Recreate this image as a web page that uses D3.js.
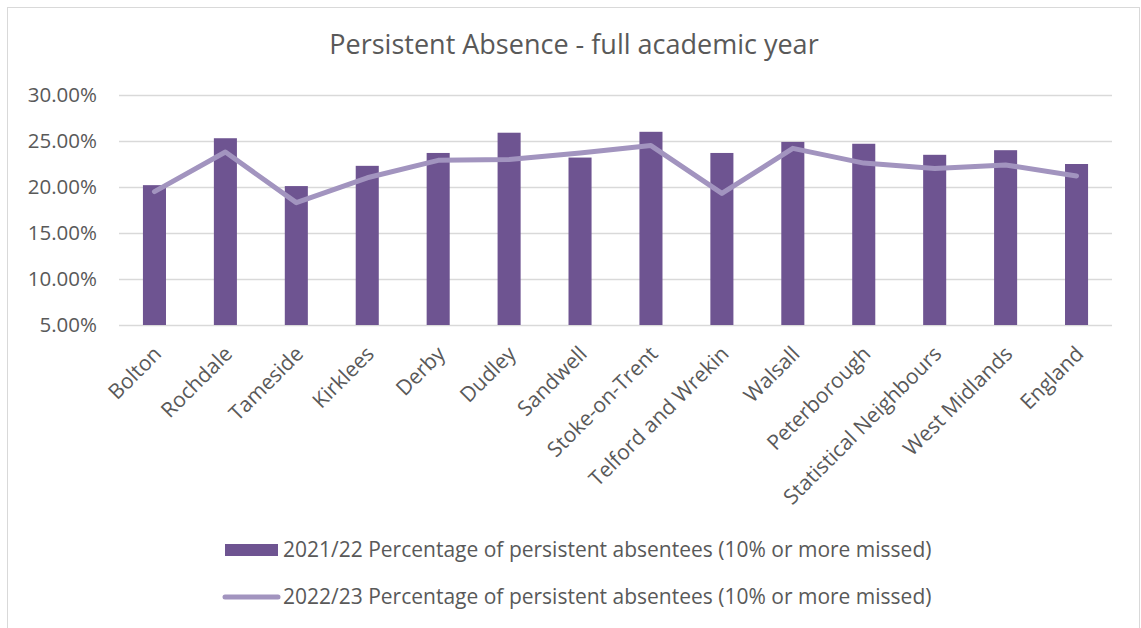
<!DOCTYPE html>
<html>
<head>
<meta charset="utf-8">
<script src="https://cdn.jsdelivr.net/npm/d3@7"></script>
<style>
  html, body { margin: 0; padding: 0; background: #fff; }
  svg { display: block; }
</style>
</head>
<body>
<svg id="chart" width="1141" height="628"></svg>
<script>
const categories = ["Bolton","Rochdale","Tameside","Kirklees","Derby","Dudley","Sandwell","Stoke-on-Trent","Telford and Wrekin","Walsall","Peterborough","Statistical Neighbours","West Midlands","England"];
const values2122 = [20.2, 25.3, 20.1, 22.3, 23.7, 25.9, 23.2, 26.0, 23.7, 24.9, 24.7, 23.5, 24.0, 22.5];
const values2223 = [19.5, 23.8, 18.3, 21.0, 22.9, 23.0, 23.7, 24.5, 19.3, 24.2, 22.6, 22.0, 22.4, 21.2];
const yTicks = [5, 10, 15, 20, 25, 30];
const seriesNames = ["2021/22 Percentage of persistent absentees (10% or more missed)", "2022/23 Percentage of persistent absentees (10% or more missed)"];
const title = "Persistent Absence - full academic year";

const W = 1141, H = 628;
const barColor = "#6E5491", lineColor = "#A294BF", textColor = "#595959", gridColor = "#D9D9D9";
const font = "'Open Sans', sans-serif";
const m = {left: 119, right: 1112, top: 95, bottom: 325};

const svg = d3.select("#chart");
// chart border
svg.append("rect").attr("x", 7.5).attr("y", 7.5).attr("width", 1132).attr("height", 640)
  .attr("fill", "#fff").attr("stroke", "#D9D9D9").attr("stroke-width", 1);

const x = d3.scaleBand().domain(categories).range([m.left, m.right]).paddingInner(0.675).paddingOuter(0.3375);
const y = d3.scaleLinear().domain([5, 30]).range([m.bottom, m.top]);

// title
svg.append("text").attr("x", 574).attr("y", 54).attr("text-anchor", "middle")
  .attr("font-family", font).attr("font-size", 27).attr("fill", textColor).text(title);

// gridlines + y ticks
const yAxis = d3.axisLeft(y).tickValues(yTicks).tickSize(-(m.right - m.left)).tickFormat(d => d.toFixed(2) + "%");
const gy = svg.append("g").attr("transform", `translate(${m.left},0)`).call(yAxis);
gy.select(".domain").remove();
gy.selectAll(".tick line").attr("stroke", gridColor).attr("stroke-width", 1.3);
gy.selectAll(".tick text").attr("x", -22).attr("font-family", font).attr("font-size", 20.5).attr("fill", textColor);

// bars
svg.append("g").selectAll("rect").data(categories).join("rect")
  .attr("x", d => x(d)).attr("width", x.bandwidth())
  .attr("y", (d, i) => y(values2122[i])).attr("height", (d, i) => y(5) - y(values2122[i]))
  .attr("fill", barColor);

// line
const line = d3.line().x((d, i) => x(categories[i]) + x.bandwidth() / 2).y(d => y(d));
svg.append("path").datum(values2223).attr("d", line).attr("fill", "none")
  .attr("stroke", lineColor).attr("stroke-width", 5).attr("stroke-linejoin", "round").attr("stroke-linecap", "round");

// x axis labels
const xAxis = d3.axisBottom(x).tickSize(0);
const gx = svg.append("g").attr("transform", `translate(0,${m.bottom})`).call(xAxis);
gx.select(".domain").remove();
gx.selectAll(".tick text")
  .attr("font-family", font).attr("font-size", 21).attr("fill", textColor)
  .attr("text-anchor", "end")
  .attr("transform", "translate(3,25) rotate(-45)")
  .attr("x", 0).attr("y", 0).attr("dy", "0.35em");

// legend
const lg = svg.append("g");
lg.append("rect").attr("x", 225).attr("y", 544).attr("width", 53).attr("height", 12).attr("fill", barColor);
lg.append("text").attr("x", 283).attr("y", 557).attr("font-family", font).attr("font-size", 21).attr("fill", textColor).text(seriesNames[0]);
lg.append("line").attr("x1", 225).attr("x2", 278).attr("y1", 597).attr("y2", 597)
  .attr("stroke", lineColor).attr("stroke-width", 5).attr("stroke-linecap", "round");
lg.append("text").attr("x", 283).attr("y", 604).attr("font-family", font).attr("font-size", 21).attr("fill", textColor).text(seriesNames[1]);
</script>
</body>
</html>
